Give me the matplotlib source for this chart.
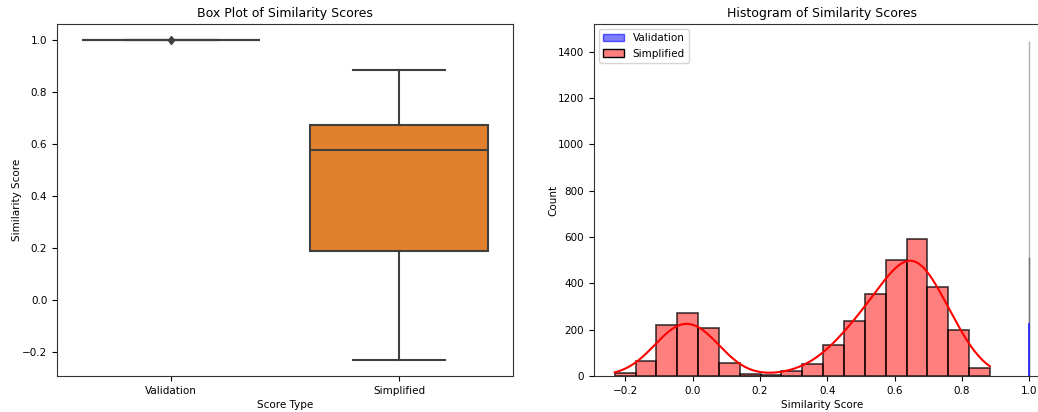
import numpy as np
import matplotlib
matplotlib.use("Agg")
import matplotlib.pyplot as plt
from matplotlib.patches import Patch

# ---- data -------------------------------------------------------------
score_types = ["Validation", "Simplified"]

# box-plot summary statistics per score type
box_q1 = [1.0, 0.188]
box_median = [1.0, 0.577]
box_q3 = [1.0, 0.671]
box_whislo = [1.0, -0.232]
box_whishi = [1.0, 0.883]
box_fliers = [[1.0], []]

# histogram of simplified scores (18 equal bins)
simplified_edges_range = (-0.232, 0.883)
simplified_counts = [14, 64, 221, 274, 207, 57, 8, 4, 21, 50,
                     133, 239, 353, 500, 591, 386, 200, 36]

# validation scores all sit at 1.0; their bins collapse to one column
validation_value = 1.0
validation_counts = [1447, 514, 229]

# ---- figure -----------------------------------------------------------
W, H = 1038, 412
plt.rcParams["font.family"] = "DejaVu Sans"
fig = plt.figure(figsize=(W / 100, H / 100), dpi=100)

line_col = "#3f3f3f"
tick_fs = 7.5
lab_fs = 7.5
title_fs = 9

def px_axes(x0, x1, y_top, y_bot):
    return fig.add_axes([x0 / W, (H - y_bot) / H, (x1 - x0) / W, (y_bot - y_top) / H])

# ---- box plot ---------------------------------------------------------
ax1 = px_axes(57, 513, 24, 376)
stats = []
for i, name in enumerate(score_types):
    stats.append(dict(label=name, q1=box_q1[i], med=box_median[i], q3=box_q3[i],
                      whislo=box_whislo[i], whishi=box_whishi[i], fliers=box_fliers[i]))
box_colors = ["#3274a1", "#e1812c"]
bp = ax1.bxp(stats, positions=range(len(score_types)), widths=0.78, patch_artist=True,
             showfliers=True,
             boxprops=dict(edgecolor=line_col, linewidth=1.5),
             medianprops=dict(color=line_col, linewidth=1.5),
             whiskerprops=dict(color=line_col, linewidth=1.5),
             capprops=dict(color=line_col, linewidth=1.5),
             capwidths=0.4,
             flierprops=dict(marker="d", markersize=4.5, markerfacecolor=line_col,
                             markeredgecolor=line_col))
for patch, c in zip(bp["boxes"], box_colors):
    patch.set_facecolor(c)
ax1.set_xlim(-0.5, len(score_types) - 0.5)
lo = min(box_whislo); hi = max(box_whishi)
pad = (hi - lo) * 0.05
ax1.set_ylim(lo - pad, hi + pad)
ax1.set_title("Box Plot of Similarity Scores", fontsize=title_fs, pad=5)
ax1.set_xlabel("Score Type", fontsize=lab_fs, labelpad=3)
ax1.set_ylabel("Similarity Score", fontsize=lab_fs, labelpad=0)
ax1.tick_params(labelsize=tick_fs)

# ---- histogram --------------------------------------------------------
ax2 = px_axes(594, 1050, 24, 376)
edges = np.linspace(simplified_edges_range[0], simplified_edges_range[1], len(simplified_counts) + 1)
centers = (edges[:-1] + edges[1:]) / 2
bw = edges[1] - edges[0]
counts = np.array(simplified_counts, dtype=float)

# validation: degenerate bins at 1.0
val_edge = ["#b0b0b0", "#707070", "#2020ff"]
for c, ec in zip(validation_counts, val_edge):
    ax2.bar(validation_value, c, width=1e-6, color=(0, 0, 1, 0.5), edgecolor=ec,
            linewidth=1.2 if ec == "#2020ff" else 1.0)

ax2.bar(centers, counts, width=bw, align="center", color=(1, 0, 0, 0.5),
        edgecolor=(0, 0, 0, 0.75), linewidth=1.2)

# gaussian KDE of the simplified scores, scaled to counts, clipped to data range
n = counts.sum()
mean = np.sum(centers * counts) / n
sd = np.sqrt(np.sum(counts * (centers - mean) ** 2) / n)
bwk = sd * n ** (-1 / 5)
xs = np.linspace(edges[0], edges[-1], 400)
dens = np.zeros_like(xs)
for c0, w in zip(centers, counts):
    dens += w * np.exp(-0.5 * ((xs - c0) / bwk) ** 2)
dens /= n * bwk * np.sqrt(2 * np.pi)
ax2.plot(xs, dens * n * bw, color="red", linewidth=1.5)

xlo = edges[0]; xhi = validation_value
xpad = (xhi - xlo) * 0.05
ax2.set_xlim(xlo - xpad, xhi + xpad)
ax2.set_ylim(0, max(validation_counts) * 1.05)
ax2.set_title("Histogram of Similarity Scores", fontsize=title_fs, pad=5)
ax2.set_xlabel("Similarity Score", fontsize=lab_fs, labelpad=3)
ax2.set_ylabel("Count", fontsize=lab_fs, labelpad=0)
ax2.tick_params(labelsize=tick_fs)

handles = [Patch(facecolor=(0, 0, 1, 0.5), edgecolor=(0, 0, 1, 0.6)),
           Patch(facecolor=(1, 0, 0, 0.5), edgecolor="black")]
ax2.legend(handles, score_types, loc="upper left", fontsize=tick_fs)

for ax in (ax1, ax2):
    for s in ax.spines.values():
        s.set_color("#333333")

fig.savefig("out.png", dpi=100)
